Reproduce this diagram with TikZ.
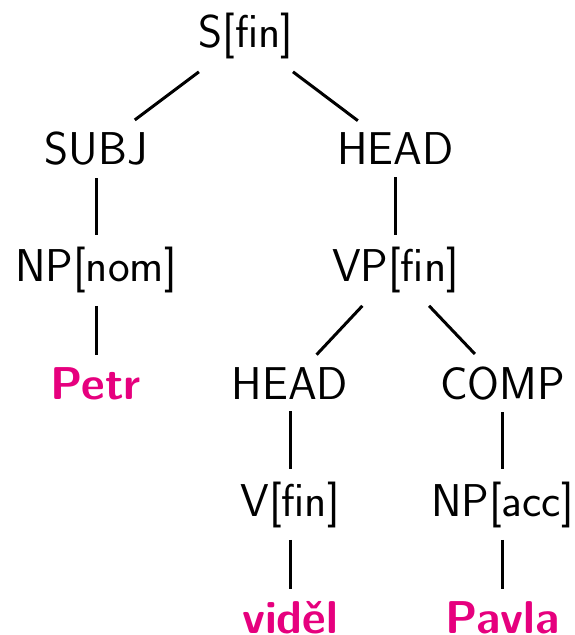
\documentclass[tikz,border=0pt]{standalone}
\usepackage{fontspec}
\definecolor{wordpink}{RGB}{230,0,126}
\begin{document}
\begin{tikzpicture}[x=0.5pt,y=-0.5pt,
  cat/.style={anchor=base,inner sep=6pt,font=\sffamily\fontsize{23}{28}\selectfont},
  word/.style={cat,font=\sffamily\bfseries\fontsize{23}{28}\selectfont,text=wordpink},
  edge/.style={line width=1.5pt}]
\useasboundingbox (0,0) rectangle (574,635);
\node[cat] (s) at (246,48) {S[fin]};
\node[cat] (subj) at (96,165) {SUBJ};
\node[cat] (head1) at (395.5,165) {HEAD};
\node[cat] (npnom) at (96,282) {NP[nom]};
\node[cat] (vp) at (395.5,282) {VP[fin]};
\node[word] (petr) at (96,399) {Petr};
\node[cat] (head2) at (290,399) {HEAD};
\node[cat] (comp) at (502.5,399) {COMP};
\node[cat] (v) at (290,516) {V[fin]};
\node[cat] (npacc) at (502.5,516) {NP[acc]};
\node[word] (videl) at (290,633) {viděl};
\node[word] (pavla) at (502.5,633) {Pavla};
\draw[edge] (s) -- (subj);
\draw[edge] (s) -- (head1);
\draw[edge] (subj) -- (npnom);
\draw[edge] (npnom) -- (petr);
\draw[edge] (head1) -- (vp);
\draw[edge] (vp) -- (head2);
\draw[edge] (vp) -- (comp);
\draw[edge] (head2) -- (v);
\draw[edge] (v) -- (videl);
\draw[edge] (comp) -- (npacc);
\draw[edge] (npacc) -- (pavla);
\end{tikzpicture}
\end{document}
